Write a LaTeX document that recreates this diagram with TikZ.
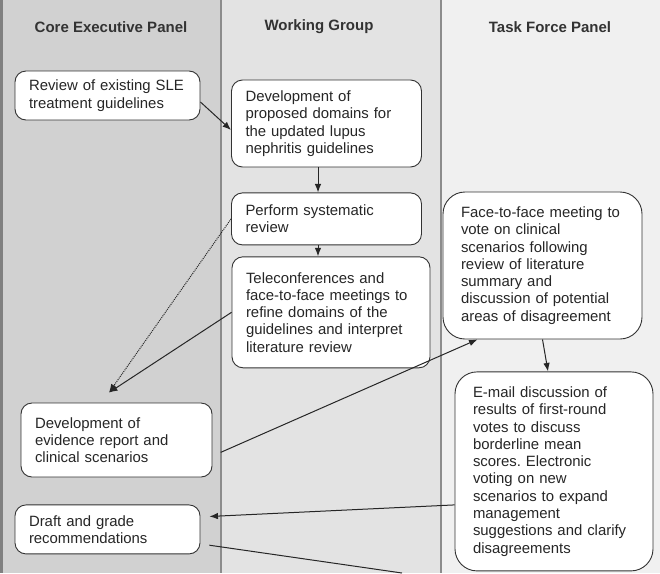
\documentclass[tikz,border=0pt]{standalone}
\usepackage{fontspec}
\setmainfont{Liberation Sans}
\usetikzlibrary{positioning,arrows.meta}

\begin{document}
\begin{tikzpicture}[x=1pt, y=-1pt, node distance=24pt, >={Latex[length=8.5pt,width=6.5pt]},
    box/.style={draw=black!80, line width=0.9pt, fill=white, rounded corners=11pt,
        align=left, inner xsep=14pt, text=black!85, font=\frenchspacing\fontsize{14.9}{17.3}\selectfont},
    big box/.style={box, rounded corners=22pt, inner xsep=18pt},
    lane/.style={font=\bfseries\fontsize{15}{17}\selectfont, text=black!80}]

    \useasboundingbox (0,0) rectangle (660,573);

    % swim lanes
    \fill[black!18] (0,0) rectangle (221,573);
    \fill[black!11] (221,0) rectangle (441,573);
    \fill[black!6] (441,0) rectangle (660,573);
    \fill[black!50] (0,0) rectangle (3,573);
    \draw[black!45, line width=1.2pt] (221,0) -- (221,573) (441,0) -- (441,573);

    \node[lane] (hcore) at (111,27) {Core Executive Panel};
    \node[lane] (hwork) at (319,27) {Working Group};
    \node[lane] (htask) at (550,27) {Task Force Panel};

    % core executive panel
    \node[box, text width=157pt, minimum height=49pt] (review) at (107.5,95.5) {Review of existing SLE\\treatment guidelines};
    \node[box, text width=163pt, minimum height=74pt] (evidence) at (116.5,440) {Development of\\evidence report and\\clinical scenarios};
    \node[box, text width=157pt, minimum height=49pt] (draft) [below=27pt of evidence, xshift=-9pt] {Draft and grade\\recommendations};

    % working group
    \node[box, text width=162pt, minimum height=87pt] (domains) at (326.5,123.5) {Development of\\proposed domains for\\the updated lupus\\nephritis guidelines};
    \node[box, text width=162pt, minimum height=52pt] (perform) [below=25pt of domains] {Perform systematic\\review};
    \node[box, text width=170pt, minimum height=111pt] (telecon) [below=11pt of perform, xshift=4.5pt] {Teleconferences and\\face-to-face meetings to\\refine domains of the\\guidelines and interpret\\literature review};

    % task force panel
    \node[big box, text width=163pt, minimum height=147pt] (face) at (542.5,265.5) {Face-to-face meeting to\\vote on clinical\\scenarios following\\review of literature\\summary and\\discussion of potential\\areas of disagreement};
    \node[big box, text width=162pt, minimum height=199pt] (email) [below=32pt of face, xshift=11.5pt] {E-mail discussion of\\results of first-round\\votes to discuss\\borderline mean\\scores. Electronic\\voting on new\\scenarios to expand\\management\\suggestions and clarify\\disagreements};

    \coordinate (meet) at ([xshift=-7.5pt, yshift=10pt]evidence.north);
    \coordinate (offpage) at (402,573);

    \path[->, line width=1pt, black!85]
        ([yshift=-6.5pt]review.east) edge ([yshift=-6.5pt]domains.west)
        ([xshift=-8.5pt]domains.south) edge ([xshift=-8.5pt]perform.north)
        ([xshift=-8.5pt]perform.south) edge ([xshift=-13pt]telecon.north)
        (perform.west) edge[densely dotted] (meet)
        (telecon.west) edge (meet)
        ([yshift=-16pt]evidence.east) edge[shorten <=9pt] ([xshift=-65pt]face.south)
        (face.south) edge ([xshift=-6pt]email.north)
        ([yshift=-33.5pt]email.west) edge[shorten >=9pt] ([yshift=12.5pt]draft.east);
    \draw[line width=1pt, black!85, shorten <=9pt] ([yshift=-14.5pt]draft.east) -- (offpage);

\end{tikzpicture}
\end{document}
